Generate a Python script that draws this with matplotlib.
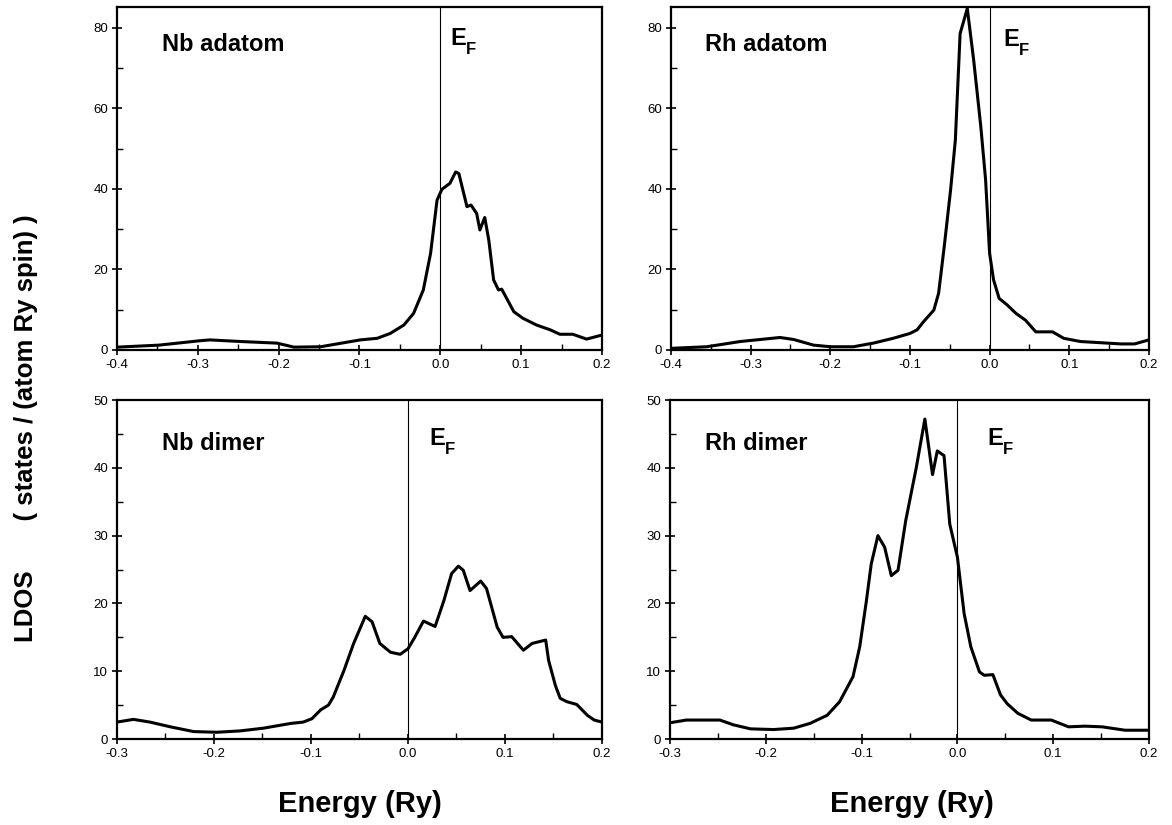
import matplotlib
matplotlib.use('Agg')
from matplotlib import pyplot as plt
from matplotlib.ticker import MultipleLocator, FormatStrFormatter

plt.rcParams['font.family'] = ['Liberation Sans', 'DejaVu Sans']

# Nb adatom
nb_ad_e = [-0.4, -0.348, -0.297, -0.285, -0.247, -0.202, -0.181, -0.148, -0.099, -0.078,
           -0.062, -0.045, -0.033, -0.021, -0.012, -0.008, -0.004, 0.002, 0.012, 0.019,
           0.023, 0.033, 0.038, 0.045, 0.049, 0.055, 0.060, 0.066, 0.072, 0.076,
           0.091, 0.102, 0.119, 0.136, 0.148, 0.164, 0.181, 0.2]
nb_ad_dos = [0.7, 1.2, 2.3, 2.5, 2.1, 1.7, 0.7, 0.8, 2.5, 2.9,
             4.1, 6.2, 9.1, 14.9, 24.0, 30.6, 37.2, 39.9, 41.4, 44.2,
             43.8, 35.6, 36.0, 33.9, 29.8, 32.9, 27.3, 17.4, 14.9, 15.1,
             9.5, 7.9, 6.2, 5.0, 3.9, 3.9, 2.7, 3.7]

# Rh adatom
rh_ad_e = [-0.4, -0.355, -0.313, -0.263, -0.246, -0.221, -0.200, -0.171, -0.146, -0.121,
           -0.100, -0.091, -0.083, -0.070, -0.064, -0.057, -0.049, -0.043, -0.037, -0.028,
           -0.020, -0.011, -0.005, 0.0, 0.005, 0.012, 0.022, 0.033, 0.045, 0.058,
           0.068, 0.079, 0.093, 0.114, 0.148, 0.165, 0.182, 0.2]
rh_ad_dos = [0.4, 0.8, 2.1, 3.1, 2.6, 1.2, 0.8, 0.8, 1.7, 2.9,
             4.1, 5.0, 7.0, 9.9, 14.1, 25.6, 39.7, 52.1, 78.6, 84.8,
             72.0, 55.4, 42.2, 24.0, 17.4, 12.8, 11.2, 9.1, 7.4, 4.5,
             4.5, 4.5, 2.9, 2.1, 1.7, 1.5, 1.5, 2.5]

# Nb dimer
nb_di_e = [-0.3, -0.283, -0.266, -0.245, -0.221, -0.197, -0.173, -0.149, -0.121, -0.108,
           -0.099, -0.090, -0.082, -0.077, -0.066, -0.056, -0.044, -0.037, -0.029, -0.018,
           -0.008, 0.0, 0.007, 0.016, 0.028, 0.037, 0.045, 0.052, 0.057, 0.064,
           0.075, 0.081, 0.092, 0.098, 0.107, 0.119, 0.128, 0.142, 0.145, 0.152,
           0.157, 0.164, 0.174, 0.185, 0.192, 0.2]
nb_di_dos = [2.5, 2.9, 2.5, 1.8, 1.1, 1.0, 1.2, 1.6, 2.3, 2.5,
             3.0, 4.3, 5.0, 6.2, 10.1, 14.1, 18.1, 17.3, 14.1, 12.8,
             12.5, 13.3, 15.0, 17.4, 16.6, 20.4, 24.4, 25.5, 24.9, 21.9,
             23.3, 22.2, 16.5, 15.0, 15.1, 13.1, 14.1, 14.6, 11.6, 7.9,
             6.0, 5.5, 5.1, 3.5, 2.8, 2.5]

# Rh dimer
rh_di_e = [-0.3, -0.283, -0.248, -0.234, -0.216, -0.192, -0.171, -0.154, -0.136, -0.123,
           -0.109, -0.102, -0.095, -0.090, -0.083, -0.076, -0.069, -0.062, -0.054, -0.043,
           -0.034, -0.026, -0.021, -0.014, -0.008, 0.0, 0.007, 0.014, 0.023, 0.028,
           0.037, 0.045, 0.052, 0.063, 0.077, 0.098, 0.116, 0.133, 0.151, 0.175, 0.2]
rh_di_dos = [2.4, 2.8, 2.8, 2.1, 1.5, 1.4, 1.6, 2.3, 3.5, 5.5,
             9.2, 13.6, 20.4, 25.8, 30.0, 28.3, 24.1, 24.9, 32.2, 40.0,
             47.2, 39.0, 42.5, 41.8, 31.7, 26.8, 18.5, 13.6, 9.9, 9.4,
             9.5, 6.5, 5.2, 3.8, 2.8, 2.8, 1.8, 1.9, 1.8, 1.3, 1.3]

panels = [
    # rect, energies, dos, label, xlim, ylim, y major, y minor, label x, label y, E_F x, E_F y
    ([0.0998, 0.5758, 0.4138, 0.4158], nb_ad_e, nb_ad_dos, 'Nb adatom', (-0.4, 0.2), (0, 85.2), 20, 10, 0.093, 0.89, 0.687, 0.907),
    ([0.5725, 0.5758, 0.4078, 0.4158], rh_ad_e, rh_ad_dos, 'Rh adatom', (-0.4, 0.2), (0, 85.2), 20, 10, 0.071, 0.89, 0.695, 0.905),
    ([0.0998, 0.1042, 0.4138, 0.4109], nb_di_e, nb_di_dos, 'Nb dimer', (-0.3, 0.2), (0, 50), 10, 5, 0.093, 0.873, 0.645, 0.888),
    ([0.5717, 0.1042, 0.4087, 0.4109], rh_di_e, rh_di_dos, 'Rh dimer', (-0.3, 0.2), (0, 50), 10, 5, 0.073, 0.873, 0.662, 0.888),
]

fig = plt.figure(figsize=(11.72, 8.25), dpi=100)

for rect, e, dos, label, xlim, ylim, ymaj, ymin, lx, ly, efx, efy in panels:
    ax = fig.add_axes(rect)
    ax.plot(e, dos, color='black', lw=2.2)
    ax.axvline(0.0, color='black', lw=0.8)
    ax.set_xlim(*xlim)
    ax.set_ylim(*ylim)
    ax.xaxis.set_major_locator(MultipleLocator(0.1))
    ax.xaxis.set_minor_locator(MultipleLocator(0.05))
    ax.xaxis.set_major_formatter(FormatStrFormatter('%.1f'))
    ax.yaxis.set_major_locator(MultipleLocator(ymaj))
    ax.yaxis.set_minor_locator(MultipleLocator(ymin))
    ax.tick_params(which='major', direction='inout', length=7, width=1.2, labelsize=9.5, pad=3)
    ax.tick_params(which='minor', direction='in', length=4, width=1.0)
    for s in ax.spines.values():
        s.set_linewidth(1.6)
    ax.text(lx, ly, label, transform=ax.transAxes, fontsize=17, fontweight='bold',
            ha='left', va='center')
    # E with subscript F
    ax.text(efx, efy, 'E', transform=ax.transAxes, fontsize=17, fontweight='bold',
            ha='left', va='center')
    ax.annotate('F', xy=(efx, efy), xycoords='axes fraction', xytext=(11, -8),
                textcoords='offset points', fontsize=12, fontweight='bold',
                ha='left', va='center')

fig.text(0.307, 0.025, 'Energy (Ry)', fontsize=21, fontweight='bold', ha='center', va='center')
fig.text(0.778, 0.025, 'Energy (Ry)', fontsize=21, fontweight='bold', ha='center', va='center')
fig.text(0.022, 0.481, 'LDOS       ( states / (atom Ry spin) )', fontsize=18.5, fontweight='bold',
         rotation=90, ha='center', va='center')

fig.savefig('out.png', dpi=100)
